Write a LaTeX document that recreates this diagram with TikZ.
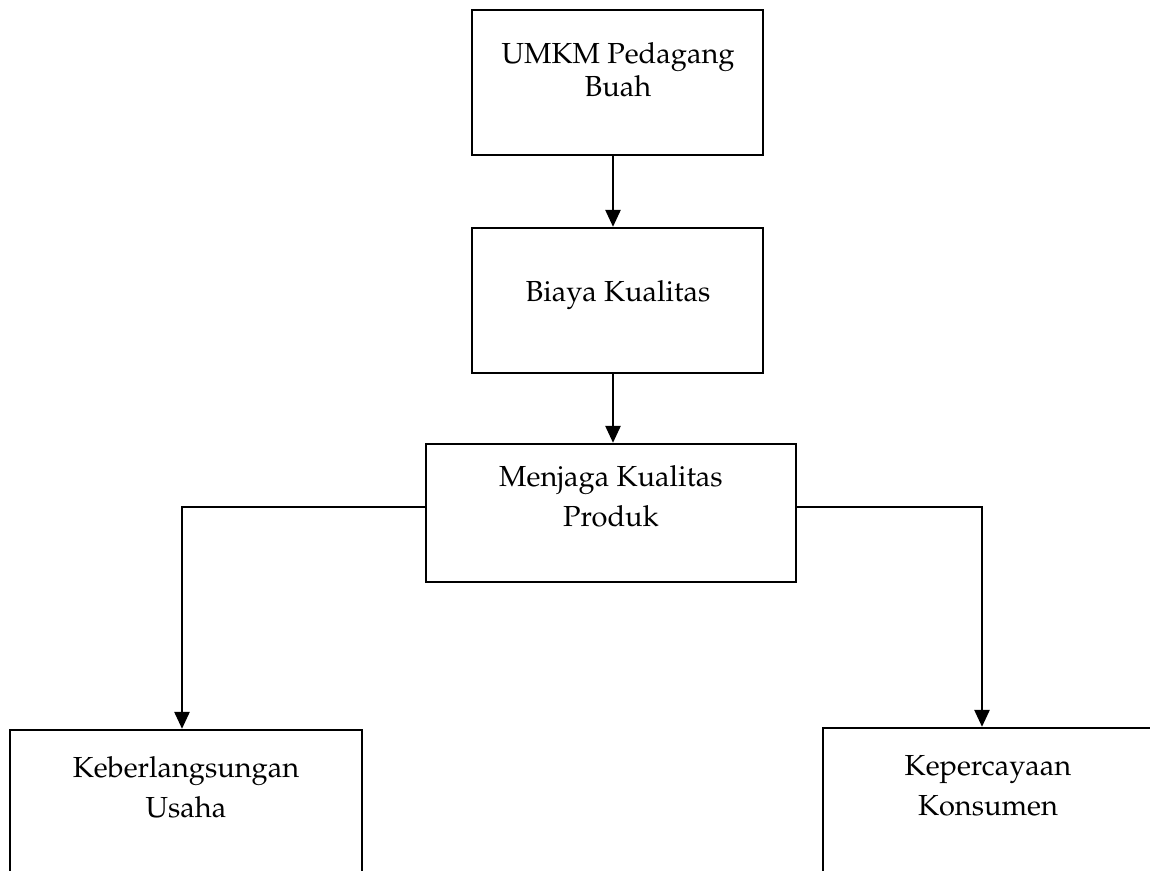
\documentclass[tikz,border=0pt]{standalone}
\usepackage[T1]{fontenc}
\renewcommand\rmdefault{ppl}
\usetikzlibrary{arrows.meta,calc}
\tikzset{
  boxnode/.style={draw=black, line width=2.3pt, inner sep=0pt},
  lbl/.style={align=center, inner sep=0pt, font=\fontsize{29}{33}\selectfont},
  lblwide/.style={align=center, inner sep=0pt, font=\fontsize{29}{40}\selectfont},
  arr/.style={line width=2.6pt, -{Triangle[length=17pt,width=15pt]}},
}
\begin{document}
\begin{tikzpicture}[x=1pt,y=-1pt]
\useasboundingbox (0,0) rectangle (1150,870);
\clip (0,0) rectangle (1150,870);
\fill[white] (0,0) rectangle (1150,870);
% boxes
\node[boxnode, minimum width=291pt, minimum height=145pt] (b1) at (617.5,82.5) {};
\node[boxnode, minimum width=291pt, minimum height=145pt] (b2) at (617.5,300.5) {};
\node[boxnode, minimum width=370pt, minimum height=138pt] (b3) at (611,513) {};
\node[boxnode, minimum width=352pt, minimum height=180pt] (b4) at (186,820) {};
\node[boxnode, minimum width=330pt, minimum height=180pt] (b5) at (988,818) {};
% texts (anchor base = baseline of the last line)
\node[lbl, anchor=base] (t1) at (618,96) {UMKM Pedagang\\Buah};
\node[lbl, anchor=base] (t2) at (618,301) {Biaya Kualitas};
\node[lblwide, anchor=base] (t3) at (611,526) {Menjaga Kualitas\\Produk};
\node[lblwide, anchor=base] (t4) at (186,817) {Keberlangsungan\\Usaha};
\node[lblwide, anchor=base] (t5) at (988,815) {Kepercayaan\\Konsumen};
% guide coordinates
\coordinate (ax) at (613,0);
\coordinate (by) at (0,507);
\coordinate (lx) at (182,0);
\coordinate (rx) at (982,0);
% connectors
\draw[arr] (b1.south -| ax) -- (b2.north -| ax);
\draw[arr] (b2.south -| ax) -- (b3.north -| ax);
\draw[arr] (b3.west |- by) -| (b4.north -| lx);
\draw[arr] (b3.east |- by) -| (b5.north -| rx);
\end{tikzpicture}
\end{document}
